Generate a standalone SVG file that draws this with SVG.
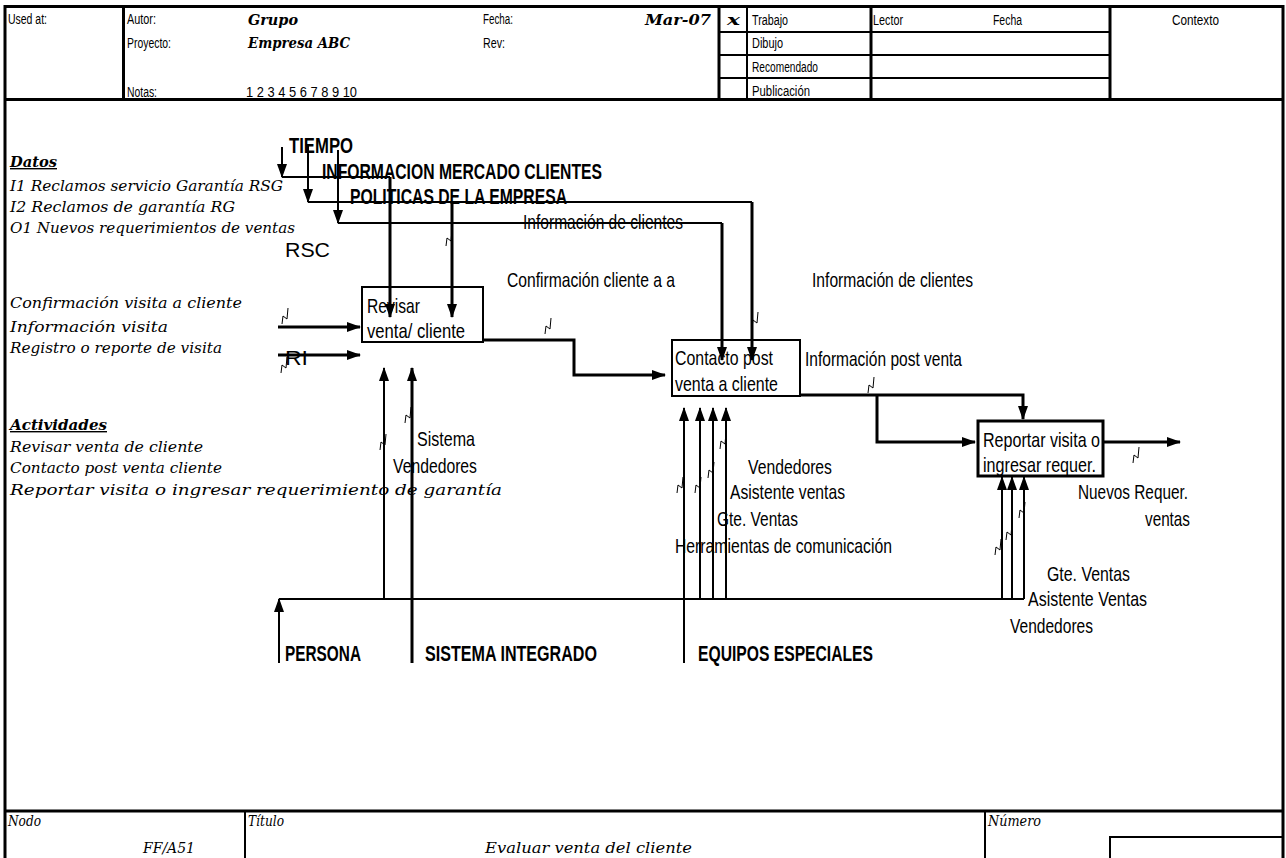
<svg xmlns="http://www.w3.org/2000/svg" xmlns:xlink="http://www.w3.org/1999/xlink" width="1286" height="858" viewBox="0 0 1286 858">
<style>
.a{font-family:"Liberation Sans",Arial,sans-serif;fill:#000}
.h{font-size:14px}
.c{font-size:21px}
.cb{font-size:22px;font-weight:bold}
.bx{font-size:21px}
.s{font-family:"DejaVu Serif","Liberation Serif",serif;font-style:italic;fill:#000}
.n{font-size:14px}
.sb{font-size:15px;font-weight:bold}
.u{font-weight:bold;text-decoration:underline}
.fr{stroke:#000;fill:none}
.ln{stroke:#000;fill:none}
</style>
<defs>
<marker id="ah" viewBox="0 0 14 10" refX="13" refY="5" markerWidth="14" markerHeight="10" markerUnits="userSpaceOnUse" orient="auto"><path d="M0,0 L14,5 L0,10 z" fill="#000"/></marker>
<path id="sq" d="M-2,8 L-1,0 L3,3 L4,-8" fill="none" stroke="#000" stroke-width="1"/>
</defs>
<rect width="1286" height="858" fill="#fff"/>

<g id="frame">
<path class="fr" stroke-width="3" d="M5,858 V6.5 H1283 V858"/>
<line class="fr" stroke-width="3" x1="5" y1="99.5" x2="1283" y2="99.5"/>
<line class="fr" stroke-width="3" x1="123.5" y1="6" x2="123.5" y2="99"/>
<line class="fr" stroke-width="3" x1="719" y1="6" x2="719" y2="99"/>
<line class="fr" stroke-width="2" x1="747" y1="6" x2="747" y2="99"/>
<line class="fr" stroke-width="3" x1="871" y1="6" x2="871" y2="99"/>
<line class="fr" stroke-width="3" x1="1110" y1="6" x2="1110" y2="99"/>
<line class="fr" stroke-width="2" x1="719" y1="32" x2="1110" y2="32"/>
<line class="fr" stroke-width="2" x1="719" y1="55" x2="1110" y2="55"/>
<line class="fr" stroke-width="2" x1="719" y1="78" x2="1110" y2="78"/>
<line class="fr" stroke-width="3" x1="5" y1="811" x2="1283" y2="811"/>
<line class="fr" stroke-width="2" x1="245" y1="811" x2="245" y2="858"/>
<line class="fr" stroke-width="2" x1="985" y1="811" x2="985" y2="858"/>
<path class="fr" stroke-width="2" d="M1110,858 V837 H1283"/>
</g>

<g id="header">
<text class="a h" x="8" y="24" textLength="39" lengthAdjust="spacingAndGlyphs">Used at:</text>
<text class="a h" x="127" y="24" textLength="29" lengthAdjust="spacingAndGlyphs">Autor:</text>
<text class="a h" x="127" y="48" textLength="44" lengthAdjust="spacingAndGlyphs">Proyecto:</text>
<text class="a h" x="127" y="97" textLength="30" lengthAdjust="spacingAndGlyphs">Notas:</text>
<text class="a h" x="246" y="97" textLength="111" lengthAdjust="spacingAndGlyphs">1 2 3 4 5 6 7 8 9 10</text>
<text class="a h" x="483" y="24" textLength="30" lengthAdjust="spacingAndGlyphs">Fecha:</text>
<text class="a h" x="483" y="48" textLength="22" lengthAdjust="spacingAndGlyphs">Rev:</text>
<text class="a h" x="752" y="25" textLength="36" lengthAdjust="spacingAndGlyphs">Trabajo</text>
<text class="a h" x="752" y="48" textLength="31" lengthAdjust="spacingAndGlyphs">Dibujo</text>
<text class="a h" x="752" y="72" textLength="66" lengthAdjust="spacingAndGlyphs">Recomendado</text>
<text class="a h" x="752" y="96" textLength="58" lengthAdjust="spacingAndGlyphs">Publicación</text>
<text class="a h" x="873" y="25" textLength="30" lengthAdjust="spacingAndGlyphs">Lector</text>
<text class="a h" x="993" y="25" textLength="29" lengthAdjust="spacingAndGlyphs">Fecha</text>
<text class="a h" x="1172" y="25" textLength="47" lengthAdjust="spacingAndGlyphs">Contexto</text>
<text class="s sb" x="248" y="25" textLength="50" lengthAdjust="spacingAndGlyphs">Grupo</text>
<text class="s sb" x="248" y="48" textLength="102" lengthAdjust="spacingAndGlyphs">Empresa ABC</text>
<text class="s sb" x="645" y="25" textLength="66" lengthAdjust="spacingAndGlyphs">Mar-07</text>
<text class="s sb" x="727" y="25" textLength="13" lengthAdjust="spacingAndGlyphs">x</text>
</g>

<g id="notes">
<text class="s n u" x="10" y="167" textLength="47" lengthAdjust="spacingAndGlyphs">Datos</text>
<text class="s n" x="10" y="191" textLength="273" lengthAdjust="spacingAndGlyphs">I1 Reclamos servicio Garantía RSG</text>
<text class="s n" x="10" y="212" textLength="225" lengthAdjust="spacingAndGlyphs">I2 Reclamos de garantía RG</text>
<text class="s n" x="10" y="233" textLength="285" lengthAdjust="spacingAndGlyphs">O1 Nuevos requerimientos de ventas</text>
<text class="s n" x="10" y="308" textLength="232" lengthAdjust="spacingAndGlyphs">Confirmación visita a cliente</text>
<text class="s n" x="10" y="332" textLength="158" lengthAdjust="spacingAndGlyphs">Información visita</text>
<text class="s n" x="10" y="353" textLength="212" lengthAdjust="spacingAndGlyphs">Registro o reporte de visita</text>
<text class="s n u" x="10" y="430" textLength="97" lengthAdjust="spacingAndGlyphs">Actividades</text>
<text class="s n" x="10" y="452" textLength="193" lengthAdjust="spacingAndGlyphs">Revisar venta de cliente</text>
<text class="s n" x="10" y="473" textLength="212" lengthAdjust="spacingAndGlyphs">Contacto post venta cliente</text>
<text class="s n" x="10" y="495" textLength="492" lengthAdjust="spacingAndGlyphs">Reportar visita o ingresar requerimiento de garantía</text>
</g>

<g id="connectors">
<path class="ln" stroke-width="2" d="M282,147 V177" marker-end="url(#ah)"/>
<path class="ln" stroke-width="2" d="M308,145 V202" marker-end="url(#ah)"/>
<path class="ln" stroke-width="2" d="M338,150 V223" marker-end="url(#ah)"/>
<path class="ln" stroke-width="2" d="M282,177 H390"/>
<path class="ln" stroke-width="3" d="M390,177 V317" marker-end="url(#ah)"/>
<path class="ln" stroke-width="2" d="M308,202 H752"/>
<path class="ln" stroke-width="3" d="M452,202 V317" marker-end="url(#ah)"/>
<path class="ln" stroke-width="3" d="M752,202 V360" marker-end="url(#ah)"/>
<path class="ln" stroke-width="2" d="M338,223 H722"/>
<path class="ln" stroke-width="3" d="M722,223 V360" marker-end="url(#ah)"/>
<path class="ln" stroke-width="3" d="M278,327 H360" marker-end="url(#ah)"/>
<path class="ln" stroke-width="3" d="M278,355 H360" marker-end="url(#ah)"/>
<path class="ln" stroke-width="3" d="M483,340 H574 V375 H665" marker-end="url(#ah)"/>
<path class="ln" stroke-width="3" d="M800,395 H1023 V419" marker-end="url(#ah)"/>
<path class="ln" stroke-width="3" d="M877,395 V442 H975" marker-end="url(#ah)"/>
<path class="ln" stroke-width="3" d="M1103,442 H1180" marker-end="url(#ah)"/>
<path class="ln" stroke-width="2" d="M279,663 V599" marker-end="url(#ah)"/>
<path class="ln" stroke-width="2" d="M279,599 H1024"/>
<path class="ln" stroke-width="2" d="M384,599 V368" marker-end="url(#ah)"/>
<path class="ln" stroke-width="3" d="M412,663 V368" marker-end="url(#ah)"/>
<path class="ln" stroke-width="2" d="M684,663 V408" marker-end="url(#ah)"/>
<path class="ln" stroke-width="2" d="M700,599 V408" marker-end="url(#ah)"/>
<path class="ln" stroke-width="2" d="M713,599 V408" marker-end="url(#ah)"/>
<path class="ln" stroke-width="2" d="M726,599 V408" marker-end="url(#ah)"/>
<path class="ln" stroke-width="2" d="M1002,599 V477" marker-end="url(#ah)"/>
<path class="ln" stroke-width="2" d="M1012,599 V477" marker-end="url(#ah)"/>
<path class="ln" stroke-width="2" d="M1024,599 V477" marker-end="url(#ah)"/>
<use href="#sq" x="448" y="238"/>
<use href="#sq" x="547" y="326"/>
<use href="#sq" x="754" y="320"/>
<use href="#sq" x="870" y="385"/>
<use href="#sq" x="1135" y="455"/>
<use href="#sq" x="284" y="316"/>
<use href="#sq" x="283" y="365"/>
<use href="#sq" x="382" y="442"/>
<use href="#sq" x="407" y="415"/>
<use href="#sq" x="679" y="485"/>
<use href="#sq" x="697" y="485"/>
<use href="#sq" x="710" y="470"/>
<use href="#sq" x="722" y="441"/>
<use href="#sq" x="997" y="547"/>
<use href="#sq" x="1008" y="532"/>
<use href="#sq" x="1021" y="510"/>
</g>

<g id="labels">
<text class="a cb" x="289" y="153" textLength="64" lengthAdjust="spacingAndGlyphs">TIEMPO</text>
<text class="a cb" x="322" y="179" textLength="280" lengthAdjust="spacingAndGlyphs">INFORMACION MERCADO CLIENTES</text>
<text class="a cb" x="350" y="204" textLength="217" lengthAdjust="spacingAndGlyphs">POLITICAS DE LA EMPRESA</text>
<text class="a c" x="523" y="229" textLength="160" lengthAdjust="spacingAndGlyphs">Información de clientes</text>
<text class="a bx" x="285" y="257" textLength="45" lengthAdjust="spacingAndGlyphs">RSC</text>
<text class="a c" x="507" y="287" textLength="168" lengthAdjust="spacingAndGlyphs">Confirmación cliente a a</text>
<text class="a c" x="812" y="287" textLength="161" lengthAdjust="spacingAndGlyphs">Información de clientes</text>
<text class="a c" x="805" y="366" textLength="157" lengthAdjust="spacingAndGlyphs">Información post venta</text>
<text class="a bx" x="285" y="365" textLength="23" lengthAdjust="spacingAndGlyphs">RI</text>
<text class="a c" x="417" y="446" textLength="58" lengthAdjust="spacingAndGlyphs">Sistema</text>
<text class="a c" x="393" y="473" textLength="84" lengthAdjust="spacingAndGlyphs">Vendedores</text>
<text class="a c" x="748" y="474" textLength="84" lengthAdjust="spacingAndGlyphs">Vendedores</text>
<text class="a c" x="730" y="499" textLength="115" lengthAdjust="spacingAndGlyphs">Asistente ventas</text>
<text class="a c" x="717" y="526" textLength="81" lengthAdjust="spacingAndGlyphs">Gte. Ventas</text>
<text class="a c" x="675" y="553" textLength="217" lengthAdjust="spacingAndGlyphs">Herramientas de comunicación</text>
<text class="a c" x="1078" y="499" textLength="110" lengthAdjust="spacingAndGlyphs">Nuevos Requer.</text>
<text class="a c" x="1145" y="526" textLength="45" lengthAdjust="spacingAndGlyphs">ventas</text>
<text class="a c" x="1047" y="581" textLength="83" lengthAdjust="spacingAndGlyphs">Gte. Ventas</text>
<text class="a c" x="1028" y="606" textLength="119" lengthAdjust="spacingAndGlyphs">Asistente Ventas</text>
<text class="a c" x="1010" y="633" textLength="83" lengthAdjust="spacingAndGlyphs">Vendedores</text>
<text class="a cb" x="285" y="661" textLength="76" lengthAdjust="spacingAndGlyphs">PERSONA</text>
<text class="a cb" x="425" y="661" textLength="172" lengthAdjust="spacingAndGlyphs">SISTEMA INTEGRADO</text>
<text class="a cb" x="698" y="661" textLength="175" lengthAdjust="spacingAndGlyphs">EQUIPOS ESPECIALES</text>
</g>

<g id="box1">
<rect x="362" y="287" width="121" height="55" fill="none" stroke="#000" stroke-width="2"/>
<text class="a bx" x="367" y="313" textLength="53" lengthAdjust="spacingAndGlyphs">Revisar</text>
<text class="a bx" x="367" y="338" textLength="98" lengthAdjust="spacingAndGlyphs">venta/ cliente</text>
</g>
<g id="box2">
<rect x="672" y="340" width="128" height="56" fill="none" stroke="#000" stroke-width="2"/>
<text class="a bx" x="675" y="365" textLength="98" lengthAdjust="spacingAndGlyphs">Contacto post</text>
<text class="a bx" x="675" y="391" textLength="103" lengthAdjust="spacingAndGlyphs">venta a cliente</text>
</g>
<g id="box3">
<rect x="978" y="421" width="125" height="55" fill="none" stroke="#000" stroke-width="3"/>
<text class="a bx" x="983" y="447" textLength="117" lengthAdjust="spacingAndGlyphs">Reportar visita o</text>
<text class="a bx" x="983" y="472" textLength="113" lengthAdjust="spacingAndGlyphs">ingresar requer.</text>
</g>

<g id="footer">
<text class="s" font-size="14" x="8" y="826" textLength="33" lengthAdjust="spacingAndGlyphs">Nodo</text>
<text class="s" font-size="14" x="248" y="826" textLength="36" lengthAdjust="spacingAndGlyphs">Título</text>
<text class="s" font-size="14" x="988" y="826" textLength="53" lengthAdjust="spacingAndGlyphs">Número</text>
<text class="s" font-size="14" x="143" y="853" textLength="52" lengthAdjust="spacingAndGlyphs">FF/A51</text>
<text class="s" font-size="14" x="485" y="853" textLength="207" lengthAdjust="spacingAndGlyphs">Evaluar venta del cliente</text>
</g>
</svg>
